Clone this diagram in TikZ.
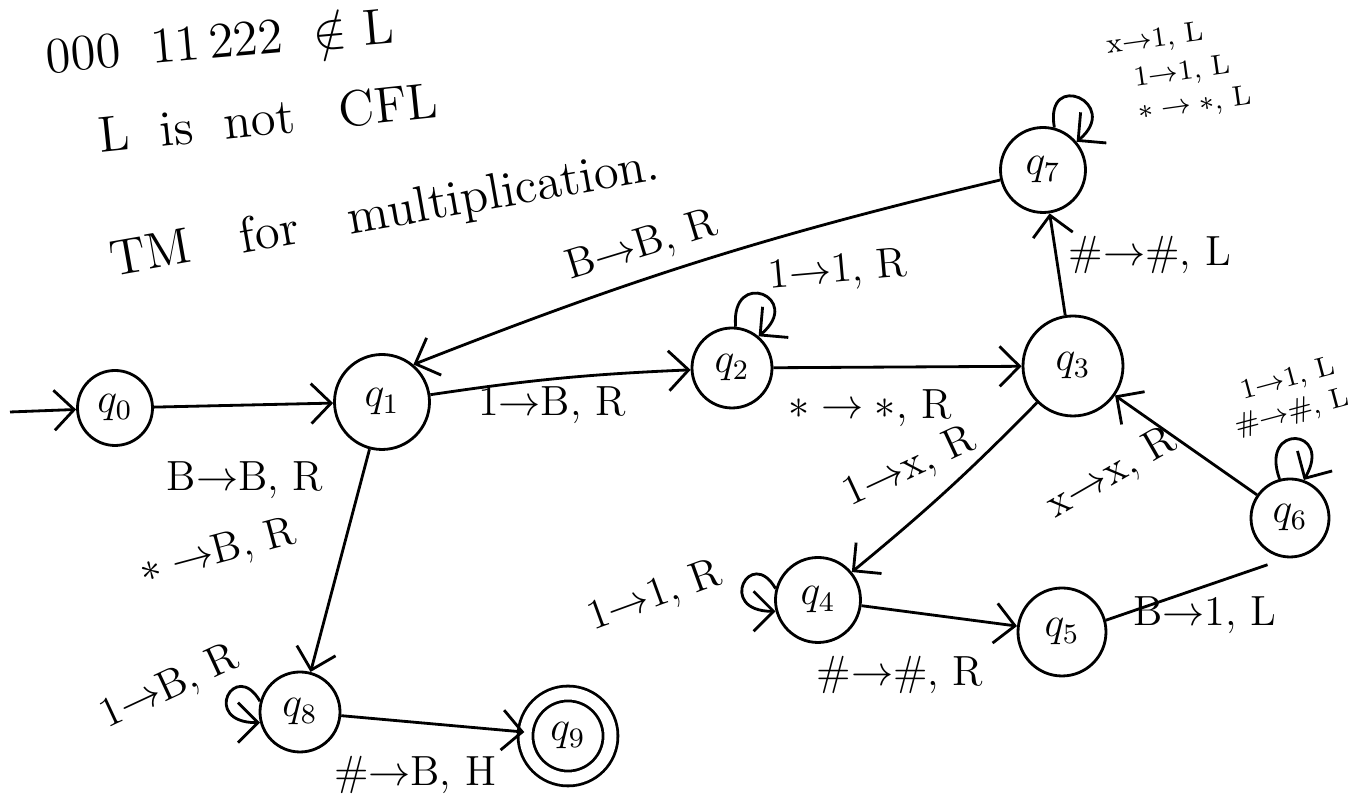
\documentclass[tikz,border=0pt]{standalone}
\usepackage{amsmath,amssymb}
\usetikzlibrary{arrows.meta,positioning}
\tikzset{
  state/.style={circle,draw,thick,minimum size=0.85cm,inner sep=1pt,font=\large},
  accept/.style={state,double,double distance=1.2mm},
  trans/.style={->,>={Straight Barb[length=2mm,width=4mm]},thick},
  plain/.style={thick},
  lbl/.style={font=\large,inner sep=1pt},
  small lbl/.style={font=\footnotesize,inner sep=0pt},
  note/.style={font=\Large},
}
\begin{document}
\begin{tikzpicture}
  \useasboundingbox (0,0) rectangle (13.53,-8.01);
  % Notes at the top
  \node[note,rotate=5]  (n1) at (2.20,-0.40) {000\; 11\,222\; $\notin$ L};
  \node[note,rotate=6]  (n2) at (2.68,-1.18) {L\; is\; not\;\; CFL};
  \node[note,rotate=10] (n3) at (3.85,-2.15) {TM\quad for\quad multiplication.};
  % States
  \node[state,minimum size=0.75cm] (q0) at (1.15,-4.08) {$q_0$};
  \node[state,minimum size=0.95cm] (q1) at (3.82,-4.02) {$q_1$};
  \node[state,minimum size=0.80cm] (q2) at (7.32,-3.68) {$q_2$};
  \node[state,minimum size=1.00cm] (q3) at (10.73,-3.66) {$q_3$};
  \node[state,minimum size=0.85cm] (q7) at (10.43,-1.70) {$q_7$};
  \node[state,minimum size=0.78cm] (q6) at (12.90,-5.18) {$q_6$};
  \node[state,minimum size=0.85cm] (q4) at (8.18,-6.00) {$q_4$};
  \node[state,minimum size=0.88cm] (q5) at (10.62,-6.32) {$q_5$};
  \node[state,minimum size=0.80cm] (q8) at (3.00,-7.12) {$q_8$};
  \node[accept,minimum size=0.85cm] (q9) at (5.68,-7.36) {$q_9$};
  \coordinate (start) at (0.10,-4.12);
  % Transitions
  \draw[trans] (start) -- (q0);
  \draw[trans] (q0) -- (q1);
  \draw[trans] (q1) to[bend left=3] (q2);
  \draw[trans] (q2) -- (q3);
  \draw[trans] (q3) -- (q7);
  \draw[trans] (q7) to[bend right=4] (q1.50);
  \draw[trans] (q3) to[bend left=3] (q4);
  \draw[trans] (q6) -- (q3);
  \draw[trans] (q4) -- (q5);
  \draw[plain,shorten >=2mm] (q5.15) -- (q6.-95);
  \draw[trans] (q1) -- (q8);
  \draw[trans] (q8) -- (q9);
  % Self loops
  \draw[trans] (q2.85) .. controls +(95:0.6) and +(40:0.6) .. (q2.50);
  \draw[trans] (q7.75) .. controls +(100:0.6) and +(40:0.6) .. (q7.40);
  \draw[trans] (q6.105) .. controls +(110:0.6) and +(60:0.6) .. (q6.70);
  \draw[trans] (q4.165) .. controls +(120:0.5) and +(180:0.6) .. (q4.195);
  \draw[trans] (q8.165) .. controls +(120:0.5) and +(180:0.6) .. (q8.195);
  % Labels
  \node[lbl] (l01) at (2.45,-4.80) {B$\to$B, R};
  \node[lbl] (l12) at (5.52,-4.05) {1$\to$B, R};
  \node[lbl,rotate=5] (l22) at (8.38,-2.72) {1$\to$1, R};
  \node[lbl] (l23) at (8.70,-4.08) {$*\to*$, R};
  \node[lbl] (l37) at (11.50,-2.55) {\#$\to$\#, L};
  \node[small lbl,rotate=8] (l77a) at (11.55,-0.40) {x$\to$1, L};
  \node[small lbl,rotate=8] (l77b) at (11.82,-0.73) {1$\to$1, L};
  \node[small lbl,rotate=8] (l77c) at (11.95,-1.05) {$*\to*$, L};
  \node[lbl,rotate=17] (l71) at (6.42,-2.47) {B$\to$B, R};
  \node[lbl,rotate=25] (l34) at (9.10,-4.68) {1$\to$x, R};
  \node[lbl,rotate=30] (l63) at (11.12,-4.74) {x$\to$x, R};
  \node[small lbl,rotate=15] (l66a) at (12.88,-3.80) {1$\to$1, L};
  \node[small lbl,rotate=15] (l66b) at (12.92,-4.13) {\#$\to$\#, L};
  \node[lbl,rotate=20] (l44) at (6.55,-5.97) {1$\to$1, R};
  \node[lbl] (l45) at (9.00,-6.75) {\#$\to$\#, R};
  \node[lbl] (l56) at (12.05,-6.15) {B$\to$1, L};
  \node[lbl,rotate=15] (l18) at (2.18,-5.53) {$*\to$B, R};
  \node[lbl,rotate=25] (l88) at (1.70,-6.88) {1$\to$B, R};
  \node[lbl] (l89) at (4.15,-7.75) {\#$\to$B, H};
\end{tikzpicture}
\end{document}
